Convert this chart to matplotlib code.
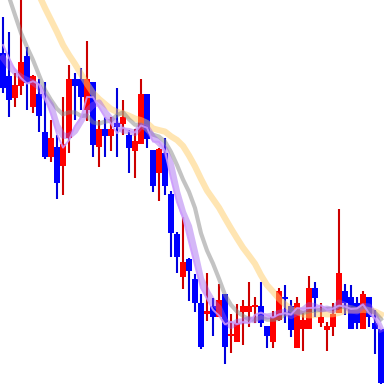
import numpy as np
import pandas as pd
import matplotlib
matplotlib.use('Agg')
import matplotlib.pyplot as plt

aperturas = [53, 76, 98, 86, 56, 107, 94, 132, 157, 147, 166, 138, 79, 79, 110, 82,
             147, 129, 136, 123, 124, 135, 151, 144, 94, 150, 173, 153, 194, 234, 277, 259,
             279, 303, 314, 306, 317, 294, 336, 342, 312, 312, 307, 306, 326, 342, 320, 297,
             306, 348, 329, 329, 288, 323, 330, 327, 313, 291, 297, 303, 329, 297, 323, 329]
maximos = [17, 32, 73, -10, 47, 75, 79, 82, 120, 135, 97, 65, 73, 68, 41, 82,
           120, 117, 117, 88, 100, 130, 129, 79, 94, 150, 148, 138, 191, 232, 217, 258,
           274, 294, 273, 298, 284, 294, 314, 304, 300, 282, 297, 282, 326, 311, 288, 285,
           300, 297, 313, 276, 282, 303, 322, 303, 209, 284, 285, 297, 291, 297, 310, 329]
minimos = [93, 117, 107, 95, 110, 113, 132, 159, 162, 199, 195, 153, 120, 110, 121, 157,
           167, 157, 151, 157, 135, 173, 178, 144, 148, 192, 201, 195, 257, 273, 289, 301,
           312, 349, 321, 336, 317, 364, 353, 342, 345, 327, 323, 327, 348, 348, 321, 323,
           337, 348, 351, 329, 317, 327, 351, 336, 313, 315, 329, 329, 329, 327, 354, 384]
cierres = [88, 100, 85, 62, 83, 76, 116, 157, 138, 183, 144, 79, 86, 97, 79, 145,
           129, 136, 129, 127, 117, 148, 141, 94, 139, 186, 149, 186, 233, 257, 262, 271,
           303, 347, 311, 317, 300, 347, 334, 323, 306, 306, 305, 323, 336, 317, 291, 299,
           330, 303, 320, 288, 298, 317, 326, 314, 273, 303, 329, 323, 294, 317, 329, 383]

# Tramo inicial de las medias (sin historia suficiente en la ventana visible)
ma5_ini = [45, 58, 70, 78]
ma6_ini = [58, 66, 72, 77, 80]
ma10_ini = [-20, -3, 15, 33, 47, 60, 75, 90, 100]
ma20_ini = [-80, -66, -52, -40, -28, -16, -5, 8, 20, 32, 45, 55, 64, 74, 84, 93, 99, 104, 109]

df = pd.DataFrame({'o': aperturas, 'h': maximos, 'l': minimos, 'c': cierres})
x = np.arange(len(df))


def media(n, inicio):
    m = df['c'].rolling(n).mean().values.copy()
    m[:len(inicio)] = inicio
    return m


ma5 = media(5, ma5_ini)
ma6 = media(6, ma6_ini)
ma10 = media(10, ma10_ini)
ma20 = media(20, ma20_ini)

sube = df['c'] < df['o']  # más arriba en pantalla = alza
col_cuerpo = np.where(sube, '#ff0000', '#0000ff')
col_mecha = np.where(sube, '#cc0000', '#0000dd')

fig = plt.figure(figsize=(3.84, 3.84), dpi=100)
ax = fig.add_axes([0, 0, 1, 1])

ax.vlines(x, df['h'], df['l'], colors=col_mecha, linewidth=1.5, zorder=1)
alto = np.maximum((df['o'] - df['c']).abs(), 1.2)
base = np.minimum(df['o'], df['c'])
ax.bar(x, alto, bottom=base, width=1.0, color=col_cuerpo, linewidth=0, zorder=2)

ax.plot(x, ma20, color='#ffcc66', alpha=0.5, linewidth=4.5, zorder=3)
ax.plot(x, ma10, color='#888888', alpha=0.5, linewidth=3.0, zorder=4)
ax.plot(x, ma6, color='#9955ee', alpha=0.42, linewidth=4.5, zorder=5)
ax.plot(x, ma5, color='#cc99ff', alpha=0.85, linewidth=1.4, zorder=6)

ax.set_xlim(-0.5, len(df) - 0.5)
ax.set_ylim(384, 0)
ax.set_axis_off()

plt.savefig('out.png', dpi=100, facecolor='white')
